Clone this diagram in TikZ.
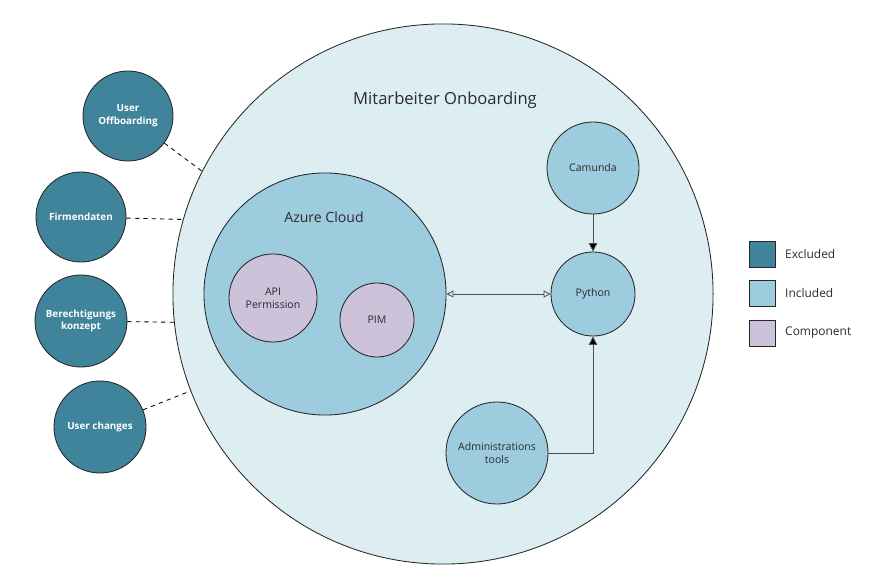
\documentclass[tikz,border=0pt]{standalone}
\usepackage{fontspec}
\setmainfont{Open Sans}
\usetikzlibrary{positioning,arrows.meta}
\definecolor{exclC}{HTML}{40849C}
\definecolor{inclC}{HTML}{9CCCDE}
\definecolor{onbC}{HTML}{DDEEF2}
\definecolor{compC}{HTML}{CCC2DA}
\definecolor{txtC}{HTML}{2B2B2B}
\begin{document}
\begin{tikzpicture}[x=0.025cm,y=-0.025cm,
  every node/.style={text=txtC,align=center,font=\fontsize{7.5}{9}\selectfont},
  kreis/.style={circle,draw=black!85,line width=0.6pt,inner sep=0pt},
  excl/.style={kreis,fill=exclC,text=white,font=\bfseries\fontsize{7}{9}\selectfont},
  incl/.style={kreis,fill=inclC},
  comp/.style={kreis,fill=compC},
  legbox/.style={draw=black!85,line width=0.6pt,minimum size=0.65cm,inner sep=0pt},
  pfeil/.style={draw=black!70,line width=0.6pt}]
  \useasboundingbox (0,0) rectangle (878,582);
  \node[kreis,fill=onbC,minimum size=13.5cm] (onb) at (443,294) {}; %grosser Kreis
  \node[font=\fontsize{11.8}{13}\selectfont] (onbtxt) at (445,100) {Mitarbeiter Onboarding};
  \node[incl,minimum size=6.05cm] (azure) at (325,294) {}; %Azure Kreis
  \node[font=\fontsize{10}{12}\selectfont] (azuretxt) at (324,217) {Azure Cloud};
  \node[comp,minimum size=2.2cm] (api) at (273,298) {API\\Permission};
  \node[comp,minimum size=1.85cm] (pim) at (377,320) {PIM};
  \node[incl,minimum size=2.3cm] (camunda) at (593,168) {Camunda};
  \node[incl,minimum size=2.1cm] (python) at (593,294) {Python};
  \node[incl,minimum size=2.55cm] (admin) at (497,453) {Administrations\\tools};
  % ausgeschlossene Themen
  \node[excl,minimum size=2.25cm] (offb) at (128,116) {User\\Offboarding};
  \node[excl,minimum size=2.25cm] (firma) at (81,217) {Firmendaten};
  \node[excl,minimum size=2.3cm] (berecht) at (81,321) {Berechtigungs\\konzept};
  \node[excl,minimum size=2.3cm] (uchg) at (100,427) {User changes};
  \draw[dashed,line width=0.6pt] (offb) -- (onb.153);
  \draw[dashed,line width=0.6pt] (firma) -- (onb.164);
  \draw[dashed,line width=0.6pt] (berecht) -- (onb.186);
  \draw[dashed,line width=0.6pt] (uchg) -- (onb.201);
  % Verbindungen
  \draw[pfeil,{Triangle[open,length=5pt,width=5pt]}-{Triangle[open,length=5pt,width=5pt]}] (azure) -- (python);
  \draw[pfeil,-{Triangle[length=6pt,width=6pt,fill=black]}] (camunda) -- (python);
  \draw[pfeil,-{Triangle[length=6pt,width=6pt,fill=black]}] (admin.east) -| (python.south);
  % Legende
  \node[legbox,fill=exclC] (leg1) at (762,254) {};
  \node[legbox,fill=inclC] (leg2) at (762,293) {};
  \node[legbox,fill=compC] (leg3) at (762,333) {};
  \node[right=0.12cm of leg1,font=\fontsize{8.5}{10}\selectfont] (leg1txt) {Excluded};
  \node[right=0.12cm of leg2,font=\fontsize{8.5}{10}\selectfont] (leg2txt) {Included};
  \node[right=0.12cm of leg3,font=\fontsize{8.5}{10}\selectfont] (leg3txt) {Component};
\end{tikzpicture}
\end{document}
